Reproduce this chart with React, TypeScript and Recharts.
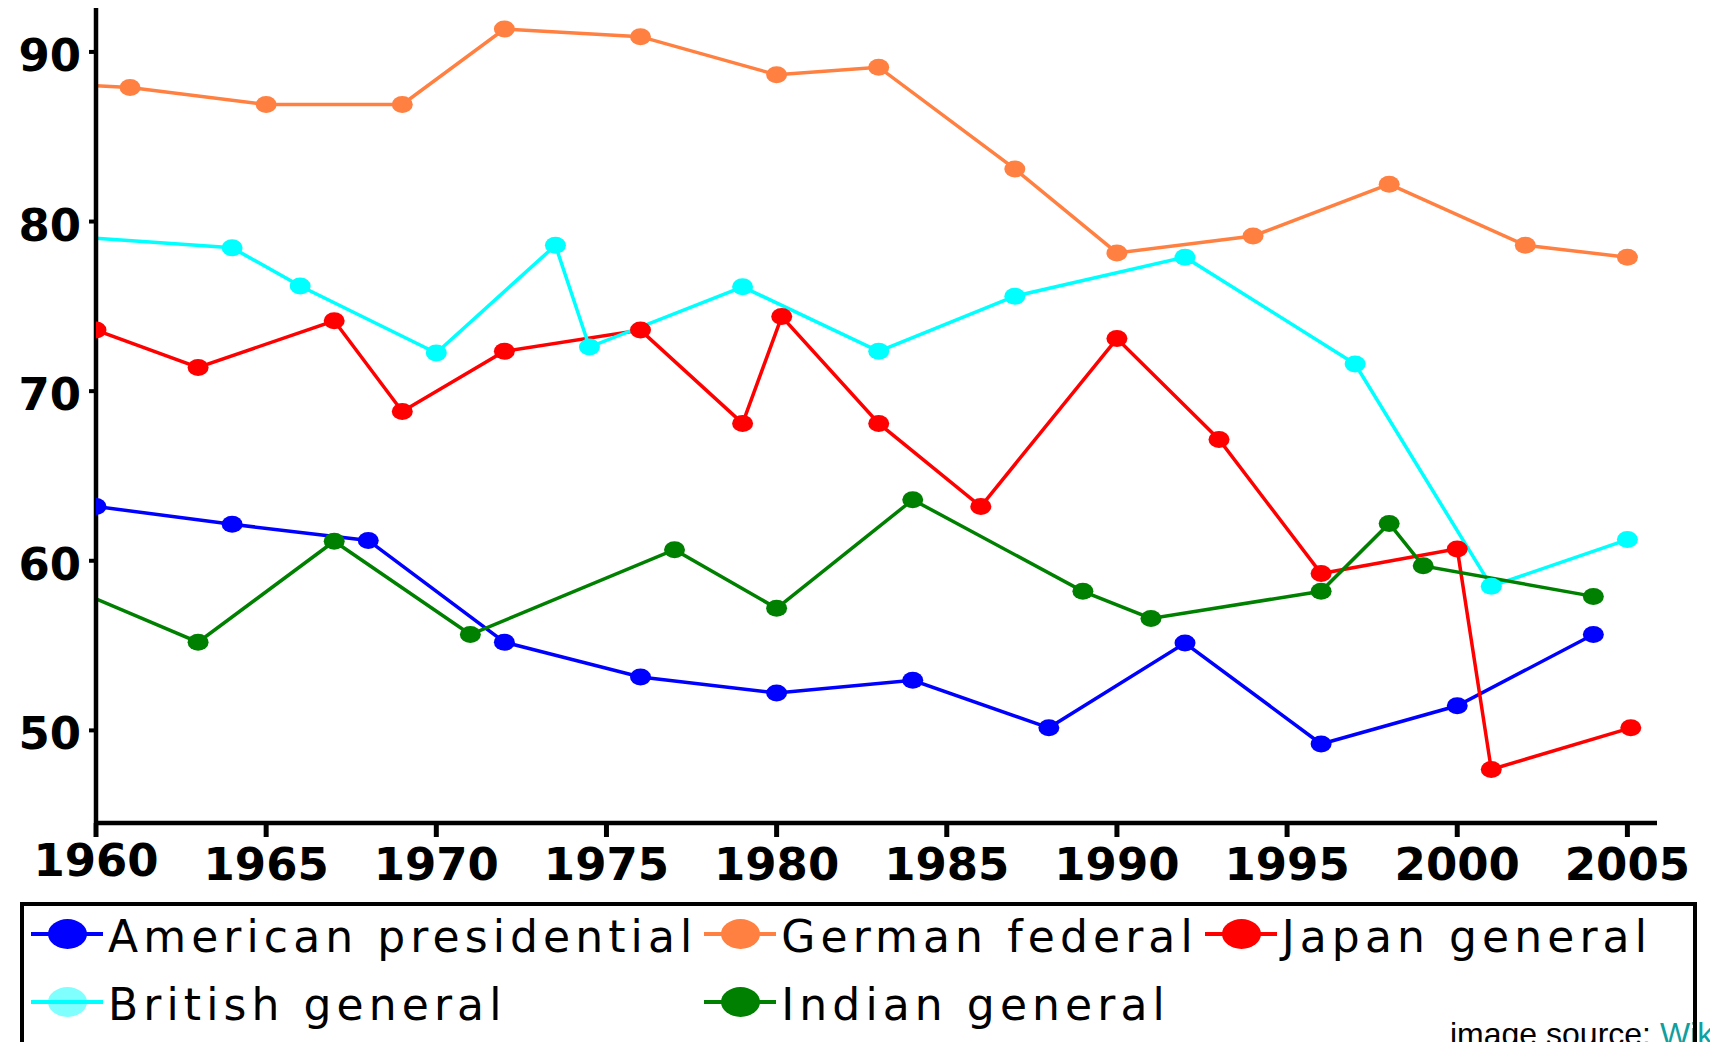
import React from 'react';
import { LineChart, Line, XAxis, YAxis } from 'recharts';

// ---- data ----
const americanYears = [1960, 1964, 1968, 1972, 1976, 1980, 1984, 1988, 1992, 1996, 2000, 2004];
const americanTurnout = [63.2, 62.15, 61.2, 55.2, 53.15, 52.2, 52.95, 50.15, 55.15, 49.2, 51.45, 55.65];

const germanYears = [1957, 1961, 1965, 1969, 1972, 1976, 1980, 1983, 1987, 1990, 1994, 1998, 2002, 2005];
const germanTurnout = [88.3, 87.9, 86.9, 86.9, 91.35, 90.9, 88.65, 89.1, 83.1, 78.15, 79.15, 82.2, 78.6, 77.9];

const japanYears = [1960, 1963, 1967, 1969, 1972, 1976, 1979, 1980.15, 1983, 1986, 1990, 1993, 1996, 2000, 2001, 2005.1];
const japanTurnout = [73.6, 71.4, 74.15, 68.8, 72.35, 73.6, 68.1, 74.4, 68.1, 63.2, 73.1, 67.15, 59.25, 60.7, 47.7, 50.15];

const britishYears = [1959, 1964, 1966, 1970, 1973.5, 1974.5, 1979, 1983, 1987, 1992, 1997, 2001, 2005];
const britishTurnout = [79.15, 78.45, 76.2, 72.25, 78.6, 72.6, 76.15, 72.35, 75.6, 77.9, 71.6, 58.5, 61.25];

const indianYears = [1957, 1963, 1967, 1971, 1977, 1980, 1984, 1989, 1991, 1996, 1998, 1999, 2004];
const indianTurnout = [60.3, 55.2, 61.15, 55.65, 60.65, 57.2, 63.6, 58.2, 56.6, 58.2, 62.2, 59.7, 57.9];

const xTicks = [1960, 1965, 1970, 1975, 1980, 1985, 1990, 1995, 2000, 2005];
const yTicks = [50, 60, 70, 80, 90];

const seriesNames = ['American presidential', 'German federal', 'Japan general', 'British general', 'Indian general'];
const seriesColors = ['#0000ff', '#ff8040', '#ff0000', '#00ffff', '#008000'];
const legendMarkerColors = ['#0000ff', '#ff8040', '#ff0000', '#80ffff', '#008000'];

const toPoints = (years: number[], vals: number[]) => years.map((year, i) => ({ year, v: vals[i] }));

const series = [
  toPoints(americanYears, americanTurnout),
  toPoints(germanYears, germanTurnout),
  toPoints(japanYears, japanTurnout),
  toPoints(britishYears, britishTurnout),
  toPoints(indianYears, indianTurnout),
].map((data, i) => ({ data, name: seriesNames[i], color: seriesColors[i], marker: legendMarkerColors[i] }));

const TICK_FONT = { fontFamily: '"DejaVu Sans", sans-serif', fontWeight: 'bold' as const, fontSize: 45 };

function XTick(props: any) {
  const { x, y, payload } = props;
  const lift = payload.value === 1960 ? -4 : 0;
  return (
    <text x={x} y={y + 41 + lift} textAnchor="middle" fill="#000" {...TICK_FONT}>
      {payload.value}
    </text>
  );
}

function YTick(props: any) {
  const { x, y, payload } = props;
  return (
    <text x={x} y={y + 19} textAnchor="end" fill="#000" {...TICK_FONT}>
      {payload.value}
    </text>
  );
}

const renderDot = (color: string) => (props: any) => {
  const { cx, cy, index } = props;
  if (cx == null || cy == null) return <g key={`d-${index}`} />;
  return <ellipse key={`d-${index}`} cx={cx} cy={cy} rx={10.5} ry={8.5} fill={color} stroke="none" />;
};

function LegendIcon({ color, marker }: { color: string; marker: string }) {
  return (
    <svg width={72} height={40} style={{ display: 'block', flex: '0 0 auto' }}>
      <ellipse cx={36.5} cy={20} rx={19.5} ry={15} fill={marker} />
      <line x1={0} y1={20} x2={72} y2={20} stroke={color} strokeWidth={4} />
    </svg>
  );
}

function ChartLegend() {
  return (
    <div
      style={{
        position: 'absolute',
        left: 20,
        top: 902,
        width: 1677,
        height: 220,
        boxSizing: 'border-box',
        border: '4px solid #000',
        background: 'transparent',
        display: 'grid',
        gridTemplateColumns: 'auto auto auto',
        gridAutoRows: '56px',
        rowGap: 12,
        columnGap: 7,
        justifyContent: 'start',
        alignContent: 'start',
        paddingLeft: 7,
      }}
    >
      {series.map((s) => (
        <div key={s.name} style={{ display: 'flex', alignItems: 'center', height: 56 }}>
          <LegendIcon color={s.color} marker={s.marker} />
          <span
            style={{
              marginLeft: 5,
              fontFamily: '"DejaVu Sans", sans-serif',
              fontSize: 44,
              letterSpacing: 5.1,
              lineHeight: '56px',
              color: '#000',
              whiteSpace: 'nowrap',
              position: 'relative',
              top: 3,
            }}
          >
            {s.name}
          </span>
        </div>
      ))}
    </div>
  );
}

export default function App() {
  return (
    <div
      style={{
        position: 'absolute',
        left: 0,
        top: 0,
        width: 1710,
        height: 1042,
        overflow: 'hidden',
        background: '#fff',
      }}
    >
      <LineChart width={1710} height={900} margin={{ top: 8, right: 53, bottom: 0, left: 0 }}>
        <XAxis
          type="number"
          dataKey="year"
          domain={[1960, 2005.87]}
          ticks={xTicks}
          interval={0}
          allowDataOverflow
          height={77}
          tickSize={14}
          tickMargin={2}
          axisLine={{ stroke: '#000', strokeWidth: 4.5 }}
          tickLine={{ stroke: '#000', strokeWidth: 5 }}
          tick={(p: any) => <XTick {...p} />}
        />
        <YAxis
          type="number"
          domain={[44.54, 92.59]}
          ticks={yTicks}
          interval={0}
          allowDataOverflow
          width={96}
          tickSize={7}
          tickMargin={8}
          axisLine={{ stroke: '#000', strokeWidth: 4.5 }}
          tickLine={{ stroke: '#000', strokeWidth: 4 }}
          tick={(p: any) => <YTick {...p} />}
        />
        {series.map((s) => (
          <Line
            key={s.name}
            data={s.data}
            dataKey="v"
            name={s.name}
            type="linear"
            stroke={s.color}
            strokeWidth={3.5}
            dot={renderDot(s.color)}
            activeDot={false}
            isAnimationActive={false}
          />
        ))}
      </LineChart>
      <div
        style={{
          position: 'absolute',
          left: 1450,
          top: 1018,
          fontFamily: '"Liberation Sans", Arial, sans-serif',
          fontSize: 32,
          lineHeight: '32px',
          whiteSpace: 'nowrap',
          color: '#000',
        }}
      >
        image source: <span style={{ color: '#119e9e' }}>Wikipedia</span>
      </div>
      <ChartLegend />
    </div>
  );
}
